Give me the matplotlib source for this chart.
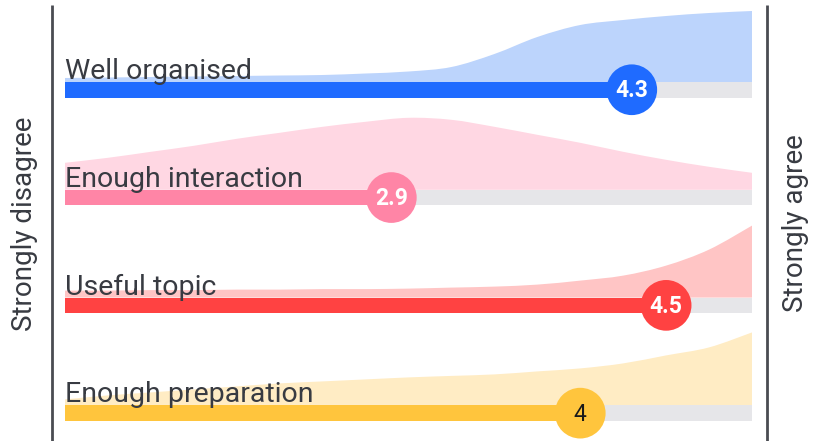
import matplotlib
matplotlib.use("Agg")
import matplotlib.pyplot as plt
from matplotlib.path import Path
from matplotlib.patches import PathPatch

# Survey items, mean score on the 1-5 agreement scale
questions = ["Well organised", "Enough interaction", "Useful topic", "Enough preparation"]
means = [4.3, 2.9, 4.5, 4.0]
mean_labels = ["4.3", "2.9", "4.5", "4"]

# Smoothed answer distribution for each item, sampled along the scale
scale_points = [1, 1.25, 1.5, 1.75, 2, 2.25, 2.5, 2.75, 3, 3.25, 3.5, 3.75, 4, 4.25, 4.5, 4.75, 5]
density_organised = [4, 4.5, 5, 5.5, 6, 6.5, 7, 8.5, 10.5, 15, 28, 45, 57, 62, 66, 69, 71]
density_interaction = [27, 32, 38, 44, 51, 57, 63, 68, 72, 70, 63, 55, 47, 38, 30, 23, 17]
density_topic = [7, 7, 7.5, 7.5, 8, 8, 8.5, 8.5, 9, 10, 11, 13, 17, 22, 32, 48, 72]
density_preparation = [6, 10, 13, 16, 19, 22, 24, 26, 28, 29.5, 31, 34, 37, 42, 50, 58, 73]
densities = [density_organised, density_interaction, density_topic, density_preparation]

bar_colors = ["#1f6bff", "#ff85a6", "#ff4242", "#ffc53d"]
area_colors = ["#bcd4fc", "#ffd7e3", "#ffc5c5", "#ffecc4"]
value_colors = ["white", "white", "white", "#1a1a1a"]
value_weights = ["bold", "bold", "bold", "normal"]

plt.rcParams["font.family"] = ["Roboto", "DejaVu Sans"]
TEXT = "#383b42"

W, H, DPI = 813, 441, 100
fig = plt.figure(figsize=(W / DPI, H / DPI), dpi=DPI)
ax = fig.add_axes([0, 0, 1, 1])

# horizontal scale: value 1 at x=65px, value 5 at x=752px
px_per_unit = (752 - 65) / 4.0
ax.set_xlim(1 - 65 / px_per_unit, 5 + (W - 752) / px_per_unit)
ax.set_ylim(H, 0)  # vertical axis measured in pixels, top down
ax.axis("off")

row_top = 82.0      # top edge of the first bar
row_step = 107.8
bar_h = 15.5


def smooth_path(xs, ys, base):
    """Closed area under a Catmull-Rom curve through (xs, ys) down to base."""
    n = len(xs)
    pts = list(zip(xs, ys))
    verts = [(xs[0], base), pts[0]]
    codes = [Path.MOVETO, Path.LINETO]
    for i in range(n - 1):
        p0 = pts[i - 1] if i > 0 else pts[i]
        p1 = pts[i]
        p2 = pts[i + 1]
        p3 = pts[i + 2] if i + 2 < n else pts[i + 1]
        c1 = (p1[0] + (p2[0] - p0[0]) / 6, p1[1] + (p2[1] - p0[1]) / 6)
        c2 = (p2[0] - (p3[0] - p1[0]) / 6, p2[1] - (p3[1] - p1[1]) / 6)
        verts += [c1, c2, p2]
        codes += [Path.CURVE4] * 3
    verts += [(xs[-1], base), (xs[0], base)]
    codes += [Path.LINETO, Path.CLOSEPOLY]
    return Path(verts, codes)


for i, (q, m, lab) in enumerate(zip(questions, means, mean_labels)):
    top = row_top + i * row_step
    centre = top + bar_h / 2

    # distribution area sitting on the bar
    ys = [top - d for d in densities[i]]
    ax.add_patch(PathPatch(smooth_path(scale_points, ys, top), facecolor=area_colors[i],
                           edgecolor="none", zorder=1))

    # track and mean bar
    ax.barh(centre, 4, left=1, height=bar_h, color="#e6e6e9", zorder=2)
    ax.barh(centre, m - 1, left=1, height=bar_h, color=bar_colors[i], zorder=3)

    # mean marker
    ax.scatter([m], [centre], s=36.5 ** 2, color=bar_colors[i], edgecolor="none", zorder=4)
    ax.text(m, centre + 1, lab, ha="center", va="center", fontsize=16.5,
            fontweight=value_weights[i], color=value_colors[i], zorder=5)

    # question label
    ax.text(1, top - 3, q, ha="left", va="baseline", fontsize=20.5, color=TEXT, zorder=6)

# frame lines at both ends of the scale
x_left = 1 - 13 / px_per_unit
x_right = 5 + 15 / px_per_unit
ax.vlines([x_left, x_right], 5, H, color="#4a4c52", linewidth=2, zorder=6)

ax.text(1 - 41 / px_per_unit, 224, "Strongly disagree", rotation=90, ha="center", va="center",
        fontsize=20, color=TEXT)
ax.text(5 + 43 / px_per_unit, 223, "Strongly agree", rotation=90, ha="center", va="center",
        fontsize=20, color=TEXT)

fig.savefig("out.png", dpi=DPI, facecolor="white")
